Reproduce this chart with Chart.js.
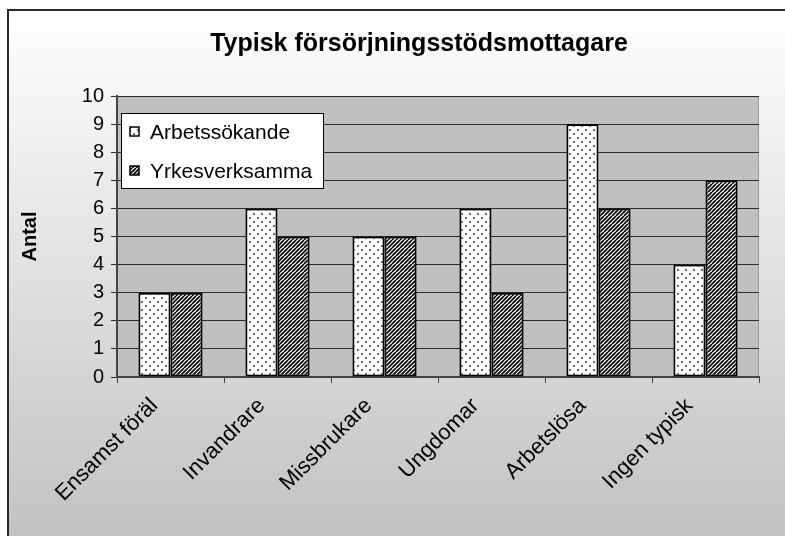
<!DOCTYPE html>
<html>
<head>
<meta charset="utf-8">
<script src="https://cdn.jsdelivr.net/npm/chart.js@4"></script>
<style>
  html, body { margin: 0; padding: 0; background: #fff; }
  #wrap { width: 785px; height: 536px; }
</style>
</head>
<body>
<div id="wrap"><canvas id="chart" width="785" height="536"></canvas></div>
<script>
// Datos
const chartTitle = 'Typisk försörjningsstödsmottagare';
const categories = ['Ensamst föräl', 'Invandrare', 'Missbrukare', 'Ungdomar', 'Arbetslösa', 'Ingen typisk'];
const arbetssokande = [3, 6, 5, 6, 9, 4];
const yrkesverksamma = [3, 5, 5, 3, 6, 7];
const seriesNames = ['Arbetssökande', 'Yrkesverksamma'];
const yTitle = 'Antal';

const FONT = '"Liberation Sans", Arial, sans-serif';

// --- Patrones de relleno (puntos y rayas) ---
function dotPattern() {
    const c = document.createElement('canvas');
    c.width = 8; c.height = 8;
    const g = c.getContext('2d');
    g.fillStyle = '#ffffff';
    g.fillRect(0, 0, 8, 8);
    g.fillStyle = '#6a6a6a';
    g.fillRect(1, 1, 2, 2);
    g.fillRect(5, 5, 2, 2);
    return g.createPattern(c, 'repeat');
}

function hatchPattern() {
    const c = document.createElement('canvas');
    c.width = 8; c.height = 8;
    const g = c.getContext('2d');
    g.fillStyle = '#ffffff';
    g.fillRect(0, 0, 8, 8);
    g.strokeStyle = '#000000';
    g.lineWidth = 1.7;
    for (let k = -8; k <= 16; k += 4) {
        g.beginPath();
        g.moveTo(k, 8);
        g.lineTo(k + 8, 0);
        g.stroke();
    }
    return g.createPattern(c, 'repeat');
}

const fills = [dotPattern(), hatchPattern()];

// Fondo degradado, marco, área de trazado y título
const backgroundPlugin = {
    id: 'background',
    beforeDraw(chart) {
        const ctx = chart.ctx;
        const area = chart.chartArea;
        ctx.save();
        ctx.fillStyle = '#ffffff';
        ctx.fillRect(0, 0, chart.width, chart.height);
        const grad = ctx.createLinearGradient(0, 10, 0, chart.height);
        grad.addColorStop(0, '#ffffff');
        grad.addColorStop(1, '#c2c2c2');
        ctx.fillStyle = grad;
        ctx.fillRect(8, 10, chart.width, chart.height);
        ctx.strokeStyle = '#2a2a2a';
        ctx.lineWidth = 2;
        ctx.beginPath();
        ctx.moveTo(8, chart.height + 2);
        ctx.lineTo(8, 10);
        ctx.lineTo(chart.width + 2, 10);
        ctx.stroke();
        // área de trazado gris
        ctx.fillStyle = '#c0c0c0';
        ctx.fillRect(area.left, area.top, area.right - area.left, area.bottom - area.top);
        ctx.strokeStyle = '#9a9a9a';
        ctx.lineWidth = 1;
        ctx.strokeRect(area.left + 0.5, area.top + 0.5, area.right - area.left - 1, area.bottom - area.top);
        // título
        ctx.fillStyle = '#000';
        ctx.font = 'bold 25px ' + FONT;
        ctx.textAlign = 'center';
        ctx.textBaseline = 'middle';
        ctx.fillText(chartTitle, 419, 44);
        ctx.restore();
    }
};

// Leyenda dentro del área de trazado
const legendBoxPlugin = {
    id: 'legendBox',
    afterDatasetsDraw(chart) {
        const ctx = chart.ctx;
        const x = 121, y = 113, w = 202, h = 75;
        ctx.save();
        ctx.fillStyle = '#ffffff';
        ctx.fillRect(x, y, w, h);
        ctx.strokeStyle = '#000';
        ctx.lineWidth = 1;
        ctx.strokeRect(x + 0.5, y + 0.5, w, h);
        ctx.font = '21px ' + FONT;
        ctx.textBaseline = 'middle';
        ctx.textAlign = 'left';
        chart.data.datasets.forEach((ds, i) => {
            const cy = 132 + i * 39;
            ctx.fillStyle = fills[i];
            ctx.fillRect(130, cy - 5, 9, 9);
            ctx.strokeStyle = '#000';
            ctx.lineWidth = 1.5;
            ctx.strokeRect(130, cy - 5, 9, 9);
            ctx.fillStyle = '#000';
            ctx.fillText(ds.label, 150, cy + 1);
        });
        ctx.restore();
    }
};

new Chart(document.getElementById('chart').getContext('2d'), {
    type: 'bar',
    data: {
        labels: categories,
        datasets: [
            {
                label: seriesNames[0],
                data: arbetssokande,
                backgroundColor: fills[0],
                borderColor: '#000',
                borderWidth: 2,
                borderSkipped: false
            },
            {
                label: seriesNames[1],
                data: yrkesverksamma,
                backgroundColor: fills[1],
                borderColor: '#000',
                borderWidth: 2,
                borderSkipped: false
            }
        ]
    },
    options: {
        responsive: false,
        animation: false,
        layout: { padding: { top: 96, right: 26, left: 0, bottom: 0 } },
        datasets: {
            bar: { categoryPercentage: 0.6, barPercentage: 1.0 }
        },
        plugins: {
            legend: { display: false },
            title: { display: false },
            tooltip: { enabled: false }
        },
        scales: {
            y: {
                min: 0,
                max: 10,
                afterFit(scale) { scale.width = 117; },
                ticks: {
                    stepSize: 1,
                    color: '#000',
                    padding: 7,
                    font: { family: FONT, size: 20 }
                },
                grid: { color: '#2a2a2a', lineWidth: 1, tickLength: 6 },
                border: { color: '#444', width: 2 },
                title: {
                    display: true,
                    text: yTitle,
                    color: '#000',
                    padding: { top: 18, bottom: 0 },
                    font: { family: FONT, size: 20, weight: 'bold' }
                }
            },
            x: {
                afterFit(scale) { scale.height = 159; },
                ticks: {
                    color: '#000',
                    minRotation: 45,
                    maxRotation: 45,
                    autoSkip: false,
                    padding: 10,
                    labelOffset: -16,
                    font: { family: FONT, size: 22 }
                },
                grid: { drawOnChartArea: false, color: '#444', tickLength: 6, offset: true },
                border: { color: '#444', width: 2 }
            }
        }
    },
    plugins: [backgroundPlugin, legendBoxPlugin]
});
</script>
</body>
</html>
